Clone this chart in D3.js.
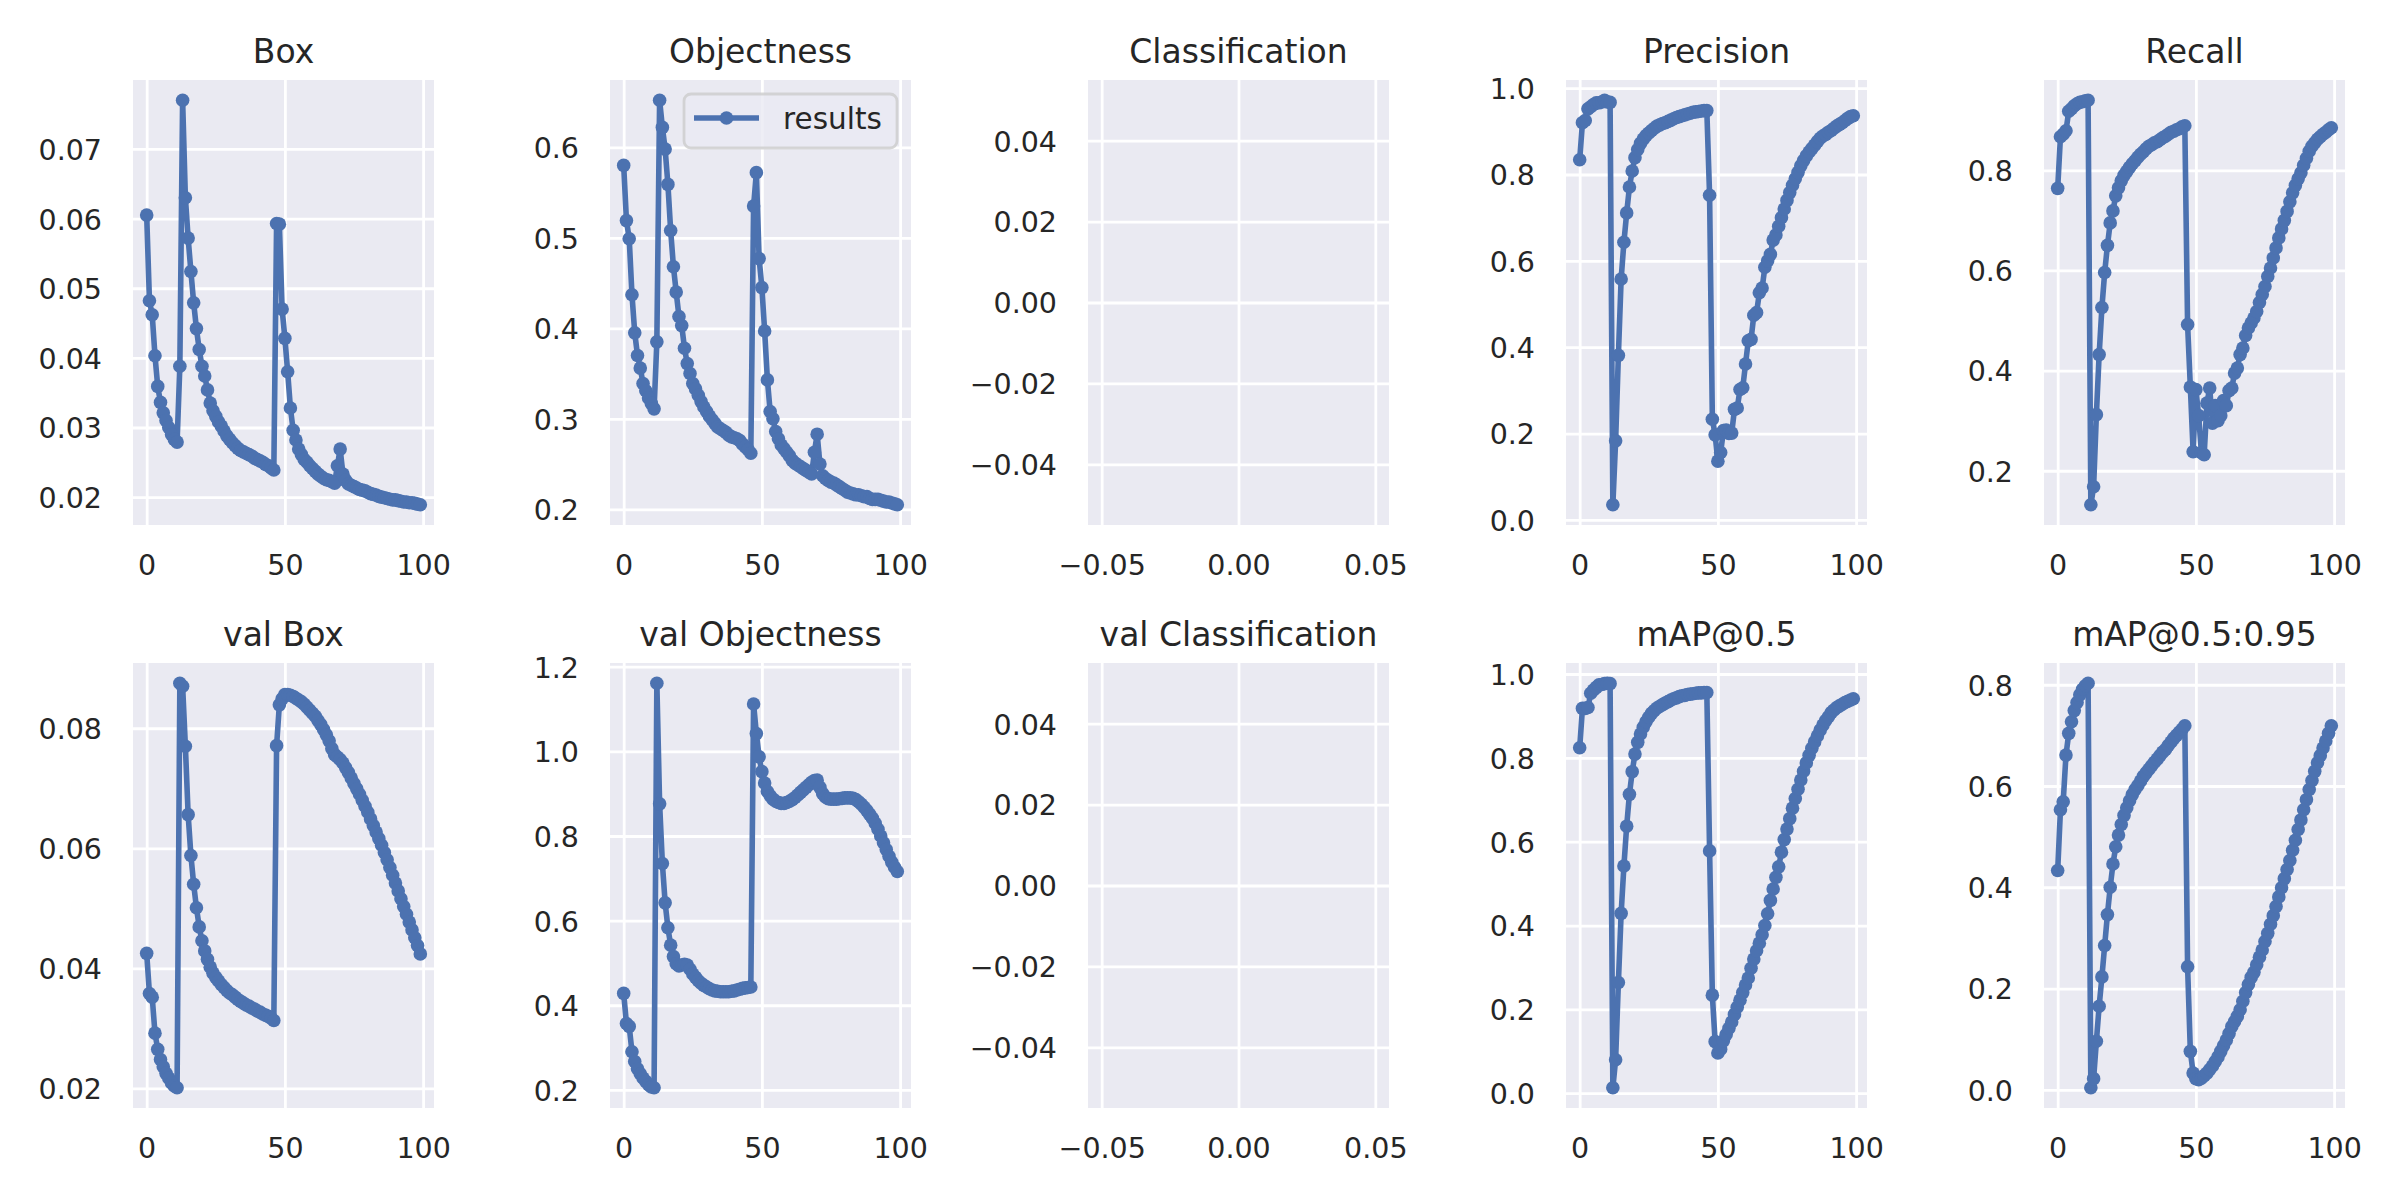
<!DOCTYPE html>
<html>
<head>
<meta charset="utf-8">
<script src="https://cdn.jsdelivr.net/npm/d3@7"></script>
<style>
  body { margin: 0; background: #fff; }
  svg { display: block; }
</style>
</head>
<body>
<svg id="chart"></svg>
<script>
// Training results, one value per epoch (0..99).
const boxLoss = [
  0.0605, 0.0482, 0.0462, 0.0403, 0.0359, 0.0336, 0.0321, 0.0310, 0.0300, 0.0290, 0.0283, 0.0279,
  0.0388, 0.0770, 0.0630, 0.0572, 0.0524, 0.0479, 0.0442, 0.0412, 0.0388, 0.0374, 0.0354, 0.0335,
  0.0324, 0.0316, 0.0308, 0.0302, 0.0295, 0.0288, 0.0283, 0.0278, 0.0274, 0.0270, 0.0267, 0.0265,
  0.0263, 0.0261, 0.0259, 0.0256, 0.0254, 0.0252, 0.0250, 0.0247, 0.0245, 0.0242, 0.0239,
  0.0593, 0.0592, 0.0470, 0.0428, 0.0380, 0.0328, 0.0296, 0.0282, 0.0269, 0.0261, 0.0254, 0.0250,
  0.0245, 0.0241, 0.0237, 0.0233, 0.0230, 0.0227, 0.0225, 0.0224, 0.0222, 0.0220, 0.0245, 0.0269,
  0.0233, 0.0224, 0.0219, 0.0217, 0.0215, 0.0213, 0.0211, 0.0210, 0.0209, 0.0207, 0.0205, 0.0204,
  0.0203, 0.0201, 0.0200, 0.0199, 0.0198, 0.0197, 0.0196, 0.0196, 0.0195, 0.0194, 0.0193, 0.0193,
  0.0192, 0.0192, 0.0191, 0.0190, 0.0189
];
const objLoss = [
  0.580, 0.519, 0.499, 0.437, 0.395, 0.370, 0.356, 0.339, 0.331, 0.323, 0.317, 0.311,
  0.385, 0.652, 0.622, 0.598, 0.559, 0.508, 0.468, 0.440, 0.413, 0.403, 0.378, 0.361,
  0.350, 0.339, 0.333, 0.326, 0.319, 0.313, 0.308, 0.303, 0.299, 0.295, 0.291, 0.289,
  0.287, 0.285, 0.282, 0.280, 0.279, 0.278, 0.276, 0.272, 0.269, 0.266, 0.262,
  0.535, 0.572, 0.477, 0.445, 0.397, 0.343, 0.308, 0.300, 0.286, 0.278, 0.271, 0.267,
  0.263, 0.259, 0.254, 0.251, 0.249, 0.247, 0.245, 0.243, 0.241, 0.239, 0.263, 0.283,
  0.250, 0.237, 0.234, 0.232, 0.230, 0.229, 0.227, 0.225, 0.223, 0.221, 0.219, 0.218,
  0.217, 0.216, 0.216, 0.215, 0.214, 0.214, 0.212, 0.211, 0.211, 0.211, 0.210, 0.209,
  0.208, 0.208, 0.207, 0.206, 0.205
];
const clsLoss = [];
const precision = [
  0.834, 0.920, 0.925, 0.952, 0.957, 0.962, 0.966, 0.966, 0.968, 0.972, 0.968, 0.967,
  0.035, 0.183, 0.381, 0.558, 0.643, 0.711, 0.771, 0.808, 0.839, 0.858, 0.872, 0.882,
  0.890, 0.896, 0.902, 0.907, 0.912, 0.915, 0.918, 0.920, 0.923, 0.926, 0.929, 0.932,
  0.934, 0.936, 0.938, 0.940, 0.942, 0.944, 0.945, 0.946, 0.947, 0.948, 0.948,
  0.752, 0.233, 0.197, 0.136, 0.156, 0.207, 0.208, 0.200, 0.201, 0.256, 0.259, 0.302,
  0.306, 0.361, 0.415, 0.418, 0.474, 0.480, 0.526, 0.537, 0.585, 0.600, 0.615, 0.648,
  0.660, 0.680, 0.700, 0.720, 0.740, 0.758, 0.775, 0.790, 0.805, 0.820, 0.832, 0.843,
  0.852, 0.860, 0.868, 0.876, 0.884, 0.889, 0.893, 0.898, 0.902, 0.907, 0.912, 0.916,
  0.920, 0.925, 0.930, 0.934, 0.936
];
const recall = [
  0.764, 0.867, 0.872, 0.879, 0.918, 0.923, 0.929, 0.933, 0.936, 0.937, 0.939, 0.940,
  0.132, 0.168, 0.312, 0.432, 0.526, 0.596, 0.650, 0.695, 0.719, 0.749, 0.765, 0.779,
  0.790, 0.798, 0.806, 0.813, 0.819, 0.826, 0.832, 0.837, 0.843, 0.848, 0.851, 0.855,
  0.857, 0.861, 0.865, 0.868, 0.872, 0.876, 0.878, 0.881, 0.883, 0.887, 0.889,
  0.492, 0.367, 0.238, 0.362, 0.310, 0.236, 0.232, 0.335, 0.365, 0.295, 0.330, 0.300,
  0.310, 0.340, 0.330, 0.360, 0.365, 0.395, 0.405, 0.432, 0.445, 0.470, 0.485, 0.495,
  0.505, 0.518, 0.536, 0.552, 0.568, 0.588, 0.605, 0.625, 0.645, 0.665, 0.683, 0.700,
  0.718, 0.737, 0.755, 0.770, 0.783, 0.795, 0.810, 0.824, 0.838, 0.848, 0.855, 0.862,
  0.867, 0.872, 0.876, 0.881, 0.885
];
const valBoxLoss = [
  0.0425, 0.0358, 0.0352, 0.0292, 0.0265, 0.0248, 0.0236, 0.0225, 0.0217, 0.0209, 0.0204, 0.0201,
  0.0875, 0.0870, 0.0770, 0.0656, 0.0588, 0.0540, 0.0501, 0.0469, 0.0446, 0.0429, 0.0415, 0.0402,
  0.0392, 0.0385, 0.0379, 0.0373, 0.0368, 0.0363, 0.0359, 0.0356, 0.0352, 0.0348, 0.0345, 0.0342,
  0.0339, 0.0337, 0.0334, 0.0332, 0.0329, 0.0327, 0.0324, 0.0322, 0.0320, 0.0317, 0.0313,
  0.0771, 0.0839, 0.0849, 0.0856, 0.0856, 0.0855, 0.0853, 0.0850, 0.0847, 0.0844, 0.0840, 0.0835,
  0.0830, 0.0825, 0.0820, 0.0813, 0.0806, 0.0798, 0.0789, 0.0779, 0.0766, 0.0756, 0.0752, 0.0748,
  0.0742, 0.0734, 0.0726, 0.0717, 0.0708, 0.0699, 0.0690, 0.0680, 0.0670, 0.0660, 0.0649, 0.0638,
  0.0627, 0.0616, 0.0605, 0.0593, 0.0581, 0.0568, 0.0555, 0.0542, 0.0529, 0.0516, 0.0503, 0.0490,
  0.0477, 0.0464, 0.0451, 0.0438, 0.0424
];
const valObjLoss = [
  0.428, 0.357, 0.350, 0.290, 0.267, 0.250, 0.238, 0.228, 0.220, 0.212, 0.207, 0.205,
  1.161, 0.876, 0.735, 0.642, 0.583, 0.542, 0.515, 0.498, 0.493, 0.495, 0.497, 0.495,
  0.485, 0.474, 0.466, 0.458, 0.452, 0.447, 0.443, 0.439, 0.436, 0.434, 0.433, 0.432,
  0.432, 0.432, 0.432, 0.433, 0.434, 0.436, 0.438, 0.440, 0.441, 0.442, 0.443,
  1.112, 1.042, 0.987, 0.952, 0.925, 0.905, 0.895, 0.887, 0.882, 0.879, 0.877, 0.877,
  0.879, 0.882, 0.886, 0.891, 0.897, 0.903, 0.909, 0.915, 0.921, 0.927, 0.931, 0.932,
  0.915, 0.900, 0.892, 0.888, 0.887, 0.887, 0.887, 0.888, 0.889, 0.890, 0.890, 0.890,
  0.889, 0.886, 0.881, 0.875, 0.868, 0.860, 0.851, 0.842, 0.830, 0.816, 0.800, 0.784,
  0.768, 0.752, 0.738, 0.726, 0.716
];
const valClsLoss = [];
const map50 = [
  0.824, 0.918, 0.918, 0.920, 0.954, 0.962, 0.968, 0.974, 0.975, 0.977, 0.978, 0.977,
  0.013, 0.080, 0.264, 0.429, 0.542, 0.637, 0.713, 0.767, 0.809, 0.837, 0.857, 0.873,
  0.886, 0.897, 0.906, 0.913, 0.919, 0.923, 0.927, 0.931, 0.934, 0.938, 0.941, 0.943,
  0.946, 0.948, 0.949, 0.951, 0.952, 0.953, 0.954, 0.955, 0.955, 0.956, 0.956,
  0.578, 0.234, 0.123, 0.096, 0.105, 0.125, 0.140, 0.155, 0.170, 0.188, 0.205, 0.222,
  0.240, 0.258, 0.275, 0.298, 0.320, 0.340, 0.358, 0.378, 0.400, 0.428, 0.460, 0.487,
  0.515, 0.540, 0.575, 0.605, 0.630, 0.655, 0.680, 0.703, 0.725, 0.747, 0.768, 0.788,
  0.806, 0.823, 0.838, 0.852, 0.866, 0.878, 0.889, 0.898, 0.908, 0.914, 0.920, 0.924,
  0.928, 0.932, 0.935, 0.938, 0.941
];
const map5095 = [
  0.433, 0.553, 0.569, 0.661, 0.704, 0.727, 0.749, 0.765, 0.780, 0.791, 0.798, 0.803,
  0.004, 0.022, 0.096, 0.165, 0.223, 0.285, 0.346, 0.400, 0.446, 0.480, 0.503, 0.524,
  0.542, 0.557, 0.571, 0.583, 0.593, 0.601, 0.610, 0.619, 0.626, 0.633, 0.640, 0.647,
  0.653, 0.660, 0.667, 0.672, 0.680, 0.687, 0.694, 0.700, 0.706, 0.712, 0.719,
  0.243, 0.076, 0.033, 0.022, 0.020, 0.023, 0.028, 0.033, 0.040, 0.047, 0.056, 0.065,
  0.076, 0.087, 0.098, 0.111, 0.125, 0.135, 0.145, 0.158, 0.175, 0.192, 0.208, 0.222,
  0.232, 0.247, 0.262, 0.276, 0.293, 0.309, 0.327, 0.344, 0.362, 0.381, 0.399, 0.417,
  0.435, 0.453, 0.473, 0.493, 0.514, 0.533, 0.553, 0.573, 0.593, 0.611, 0.629, 0.646,
  0.660, 0.675, 0.689, 0.704, 0.719
];

const titles = ["Box", "Objectness", "Classification", "Precision", "Recall",
  "val Box", "val Objectness", "val Classification", "mAP@0.5", "mAP@0.5:0.95"];
const series = [boxLoss, objLoss, clsLoss, precision, recall,
  valBoxLoss, valObjLoss, valClsLoss, map50, map5095];
const legendLabel = "results";

const W = 2400, H = 1200;
const colLeft = [133, 610, 1088, 1566, 2044];
const rowTop = [80, 663];
const plotW = 301, plotH = 445;
const blue = "#4C72B0";
const textColor = "#262626";
const font = "DejaVu Sans";

const svg = d3.select("#chart")
  .attr("width", W)
  .attr("height", H)
  .attr("font-family", font);

svg.append("rect").attr("width", W).attr("height", H).attr("fill", "#fff");

// matplotlib style limits: data range plus 5% on each side
function padded(lo, hi) {
  const m = (hi - lo) * 0.05;
  return [lo - m, hi + m];
}

function drawPanel(i) {
  const vals = series[i];
  const left = colLeft[i % 5], top = rowTop[Math.floor(i / 5)];
  const empty = vals.length == 0;

  const xDom = empty ? [-0.055, 0.055] : padded(0, vals.length - 1);
  const yDom = empty ? [-0.055, 0.055] : padded(d3.min(vals), d3.max(vals));

  const x = d3.scaleLinear().domain(xDom).range([0, plotW]);
  const y = d3.scaleLinear().domain(yDom).range([plotH, 0]);

  const g = svg.append("g").attr("transform", `translate(${left},${top})`);

  g.append("rect")
    .attr("width", plotW)
    .attr("height", plotH)
    .attr("fill", "#EAEAF2");

  // white grid
  g.append("g")
    .call(d3.axisLeft(y).ticks(5).tickSize(-plotW).tickFormat(""))
    .call(a => a.select(".domain").remove())
    .call(a => a.selectAll(".tick line").attr("stroke", "#fff").attr("stroke-width", 2.8));
  g.append("g")
    .attr("transform", `translate(0,${plotH})`)
    .call(d3.axisBottom(x).ticks(3).tickSize(plotH).tickFormat(""))
    .call(a => a.select(".domain").remove())
    .call(a => a.selectAll(".tick line").attr("y2", -plotH).attr("stroke", "#fff").attr("stroke-width", 2.8));

  // tick labels
  g.append("g")
    .call(d3.axisLeft(y).ticks(5).tickSize(0).tickPadding(31))
    .call(a => a.select(".domain").remove())
    .call(a => a.selectAll("text")
      .attr("fill", textColor)
      .attr("font-size", 28.5)
      .attr("font-family", font)
      .attr("dy", "0.365em"));
  g.append("g")
    .attr("transform", `translate(0,${plotH})`)
    .call(d3.axisBottom(x).ticks(3).tickSize(0).tickPadding(30))
    .call(a => a.select(".domain").remove())
    .call(a => a.selectAll("text")
      .attr("fill", textColor)
      .attr("font-size", 28.5)
      .attr("font-family", font));

  g.append("text")
    .attr("x", plotW / 2)
    .attr("y", -17)
    .attr("text-anchor", "middle")
    .attr("fill", textColor)
    .attr("font-size", 33)
    .text(titles[i]);

  if (!empty) {
    const line = d3.line()
      .x((d, k) => x(k))
      .y(d => y(d));
    g.append("path")
      .datum(vals)
      .attr("fill", "none")
      .attr("stroke", blue)
      .attr("stroke-width", 5.6)
      .attr("stroke-linejoin", "round")
      .attr("stroke-linecap", "butt")
      .attr("d", line);
    g.append("g")
      .selectAll("circle")
      .data(vals)
      .join("circle")
      .attr("cx", (d, k) => x(k))
      .attr("cy", d => y(d))
      .attr("r", 6.8)
      .attr("fill", blue);
  }

  // legend only on the Objectness panel
  if (i == 1) {
    const lw = 213, lh = 54;
    const lg = g.append("g").attr("transform", `translate(${plotW - 14 - lw},14)`);
    lg.append("rect")
      .attr("width", lw)
      .attr("height", lh)
      .attr("rx", 7)
      .attr("fill", "#EAEAF2")
      .attr("fill-opacity", 0.8)
      .attr("stroke", "#cccccc")
      .attr("stroke-opacity", 0.8)
      .attr("stroke-width", 2.8);
    lg.append("line")
      .attr("x1", 10).attr("x2", 75)
      .attr("y1", 24).attr("y2", 24)
      .attr("stroke", blue)
      .attr("stroke-width", 5.6);
    lg.append("circle")
      .attr("cx", 42.5).attr("cy", 24)
      .attr("r", 6.8)
      .attr("fill", blue);
    lg.append("text")
      .attr("x", 99)
      .attr("y", 35)
      .attr("fill", textColor)
      .attr("font-size", 29.5)
      .text(legendLabel);
  }
}

for (let i = 0; i < series.length; i++) drawPanel(i);
</script>
</body>
</html>
